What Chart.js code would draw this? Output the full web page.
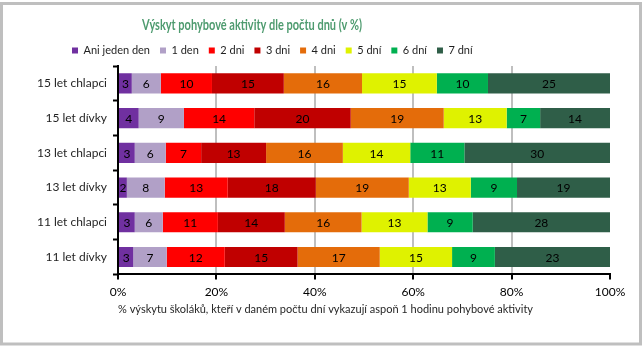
<!DOCTYPE html>
<html lang="cs">
<head>
    <meta charset="UTF-8">
    <title>Výskyt pohybové aktivity</title>
    <script src="https://cdn.jsdelivr.net/npm/chart.js"></script>
    <style>
        body { margin: 0; background: #fff; }
        #wrap { width: 643px; height: 346px; }
    </style>
</head>
<body>
    <div id="wrap"><canvas id="activityChart" width="643" height="346"></canvas></div>

    <script>
        // skupiny (osa y)
        const groups = ['15 let chlapci', '15 let dívky', '13 let chlapci', '13 let dívky', '11 let chlapci', '11 let dívky'];

        // podíly v % podle počtu dní
        const aniJedenDen = [2.8, 4.2, 3.4, 1.8, 3.4, 3.1];
        const jedenDen    = [5.9, 9.2, 6.3, 7.7, 5.7, 6.8];
        const dvaDny      = [10.4, 14.3, 7.2, 12.8, 11.2, 11.8];
        const triDny      = [14.6, 19.6, 13.2, 17.9, 13.6, 14.8];
        const ctyriDny    = [15.9, 18.9, 15.6, 18.9, 15.6, 16.7];
        const petDni      = [15.2, 12.8, 13.7, 12.6, 13.4, 14.7];
        const sestDni     = [10.4, 6.8, 11.0, 9.4, 9.2, 8.7];
        const sedmDni     = [24.8, 14.2, 29.6, 18.9, 27.9, 23.4];

        const seriesNames = ['Ani jeden den', '1 den', '2 dni', '3 dni', '4 dni', '5 dní', '6 dní', '7 dní'];
        const xTicks = [0, 20, 40, 60, 80, 100];

        const colors = ['#7030A0', '#B1A0C7', '#FF0000', '#C00000', '#E46C0A', '#DFF200', '#00B050', '#2F5E48'];
        const allSeries = [aniJedenDen, jedenDen, dvaDny, triDny, ctyriDny, petDni, sestDni, sedmDni];

        const FONT = "Lato, sans-serif";

        // bile pozadi + sedy ramecek
        const frame = {
            id: 'frame',
            beforeDraw(chart) {
                const ctx = chart.ctx;
                ctx.save();
                ctx.fillStyle = '#fff';
                ctx.fillRect(0, 0, chart.width, chart.height);
                ctx.strokeStyle = '#BFBFBF';
                ctx.lineWidth = 3;
                ctx.strokeRect(1.5, 3.5, 639, 340.5);
                ctx.restore();
            }
        };

        // posun titulku a legendy doleva jako v originale
        const shiftHeader = {
            id: 'shiftHeader',
            afterLayout(chart) {
                const t = chart.titleBlock;
                if (t) { t.left = 142; t.right = 362; }
                const l = chart.legend;
                if (l) { const w = l.right - l.left; l.left = 72 - 10; l.right = l.left + w; }
            }
        };

        // hodnoty v segmentech
        const barLabels = {
            id: 'barLabels',
            afterDatasetsDraw(chart) {
                const ctx = chart.ctx;
                ctx.save();
                ctx.font = '12px ' + FONT;
                ctx.fillStyle = '#000';
                ctx.textAlign = 'center';
                ctx.textBaseline = 'middle';
                chart.data.datasets.forEach((ds, i) => {
                    chart.getDatasetMeta(i).data.forEach((bar, j) => {
                        const p = bar.getProps(['x', 'base', 'y'], true);
                        ctx.fillText(Math.round(ds.data[j]), (p.x + p.base) / 2, p.y + 1);
                    });
                });
                ctx.restore();
            }
        };

        new Chart(document.getElementById('activityChart'), {
            type: 'bar',
            data: {
                labels: groups,
                datasets: allSeries.map((d, i) => ({
                    label: seriesNames[i],
                    data: d,
                    backgroundColor: colors[i],
                    borderWidth: 0,
                    categoryPercentage: 1,
                    barPercentage: 0.58
                }))
            },
            options: {
                indexAxis: 'y',
                responsive: false,
                animation: false,
                layout: { padding: { left: 10, right: 33, top: 16, bottom: 30 } },
                plugins: {
                    title: {
                        display: true,
                        text: 'Výskyt pohybové aktivity dle počtu dnů (v %)',
                        color: '#4E9B6F',
                        font: { family: FONT, size: 15, weight: 'bold' },
                        padding: { top: 0, bottom: 1 }
                    },
                    legend: {
                        position: 'top',
                        align: 'start',
                        labels: {
                            boxWidth: 6,
                            boxHeight: 6,
                            padding: 10,
                            color: '#1F1F1F',
                            font: { family: FONT, size: 11 }
                        }
                    },
                    tooltip: { enabled: false }
                },
                scales: {
                    x: {
                        stacked: true,
                        min: 0,
                        max: 100,
                        afterBuildTicks: s => { s.ticks = xTicks.map(v => ({ value: v })); },
                        ticks: {
                            callback: v => v + '%',
                            color: '#000',
                            padding: 6,
                            font: { family: FONT, size: 12 }
                        },
                        grid: {
                            color: c => (c.tick && (c.tick.value === 0 || c.tick.value === 100)) ? 'rgba(0,0,0,0)' : '#BFBFBF',
                            lineWidth: 2,
                            tickLength: 5,
                            tickColor: '#000',
                            tickWidth: 2
                        },
                        border: { color: '#000', width: 2 },
                        title: {
                            display: true,
                            align: 'start',
                            text: '% výskytu školáků, kteří v daném počtu dní vykazují aspoň 1 hodinu pohybové aktivity',
                            color: '#262626',
                            font: { family: FONT, size: 11 },
                            padding: { top: -3, bottom: 0 }
                        }
                    },
                    y: {
                        stacked: true,
                        afterFit: s => { s.width = 108; },
                        ticks: {
                            color: '#1F1F1F',
                            padding: 6,
                            font: { family: FONT, size: 12 }
                        },
                        grid: {
                            drawOnChartArea: false,
                            tickLength: 5,
                            tickColor: '#000',
                            tickWidth: 2
                        },
                        border: { color: '#000', width: 2 }
                    }
                }
            },
            plugins: [frame, shiftHeader, barLabels]
        });
    </script>
</body>
</html>
